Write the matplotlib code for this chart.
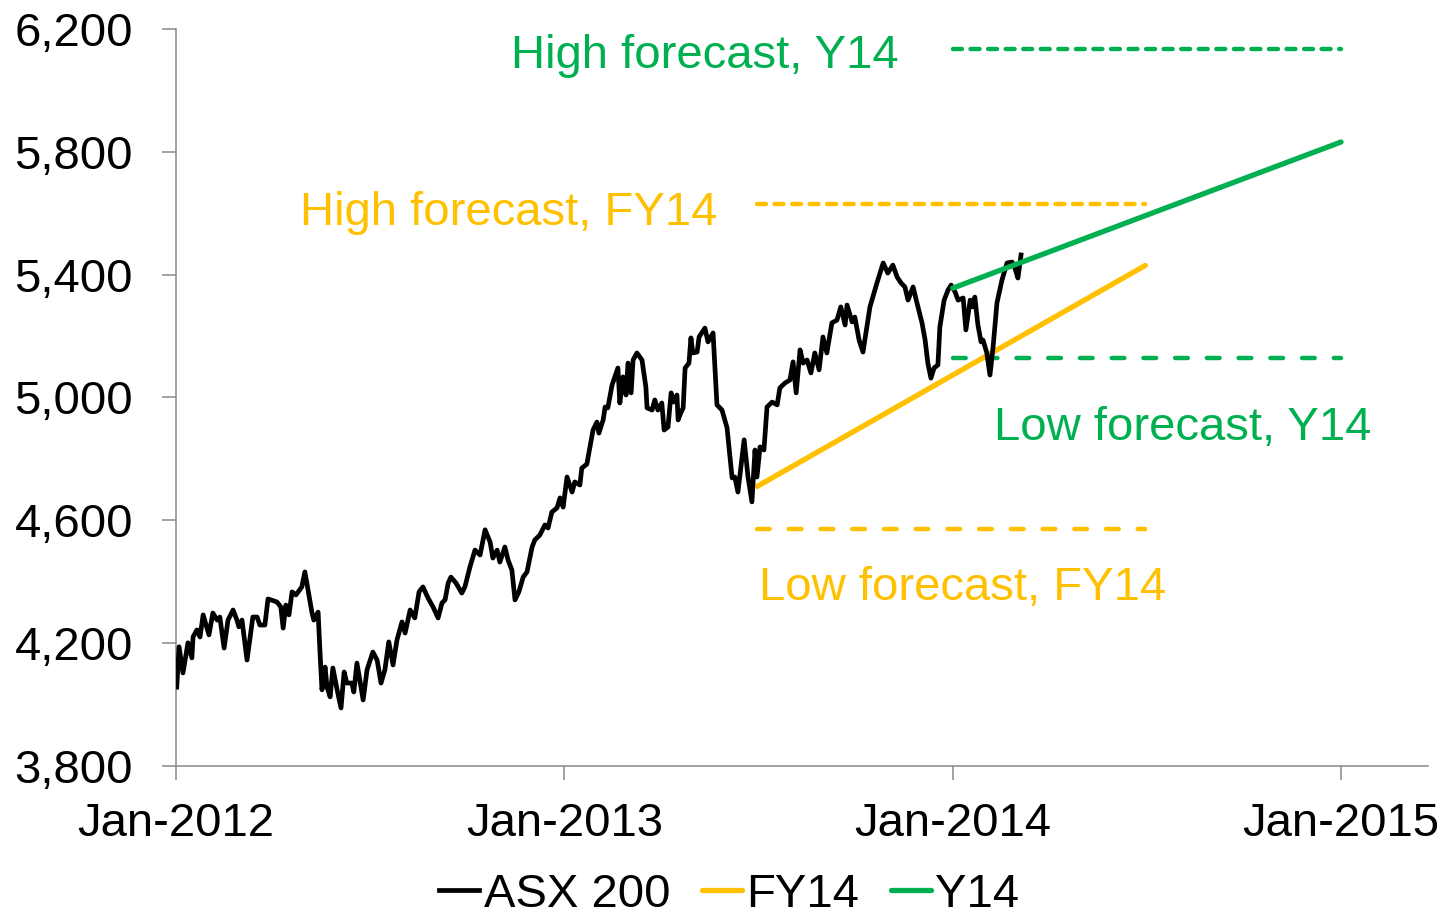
import matplotlib
matplotlib.use("Agg")
import matplotlib.pyplot as plt

plt.rcParams['font.family'] = ['Liberation Sans', 'DejaVu Sans']

# ASX 200 index (decimal year, index level)
asx_year = [2012.002, 2012.008, 2012.018, 2012.031, 2012.041, 2012.044, 2012.054, 2012.062, 2012.070, 2012.085,
            2012.095, 2012.106, 2012.113, 2012.124, 2012.134, 2012.147, 2012.157, 2012.162, 2012.170, 2012.183,
            2012.191, 2012.198, 2012.209, 2012.216, 2012.229, 2012.237, 2012.260, 2012.270, 2012.276, 2012.283,
            2012.291, 2012.299, 2012.309, 2012.324, 2012.332, 2012.337, 2012.350, 2012.355, 2012.366, 2012.371,
            2012.376, 2012.384, 2012.389, 2012.397, 2012.404, 2012.415, 2012.425, 2012.433, 2012.440, 2012.453,
            2012.458, 2012.466, 2012.482, 2012.492, 2012.507, 2012.518, 2012.528, 2012.538, 2012.548, 2012.559,
            2012.569, 2012.582, 2012.590, 2012.603, 2012.615, 2012.626, 2012.636, 2012.649, 2012.662, 2012.675,
            2012.685, 2012.693, 2012.701, 2012.708, 2012.721, 2012.736, 2012.744, 2012.757, 2012.770, 2012.783,
            2012.796, 2012.809, 2012.816, 2012.827, 2012.834, 2012.847, 2012.855, 2012.865, 2012.873, 2012.883,
            2012.894, 2012.904, 2012.917, 2012.924, 2012.937, 2012.950, 2012.958, 2012.968, 2012.981, 2012.989,
            2012.997, 2013.007, 2013.020, 2013.027, 2013.040, 2013.045, 2013.058, 2013.066, 2013.074, 2013.084,
            2013.089, 2013.100, 2013.105, 2013.112, 2013.123, 2013.138, 2013.143, 2013.151, 2013.159, 2013.164,
            2013.172, 2013.177, 2013.187, 2013.200, 2013.210, 2013.213, 2013.226, 2013.233, 2013.241, 2013.251,
            2013.257, 2013.267, 2013.275, 2013.282, 2013.290, 2013.293, 2013.300, 2013.306, 2013.311, 2013.321,
            2013.326, 2013.331, 2013.342, 2013.347, 2013.362, 2013.370, 2013.383, 2013.393, 2013.406, 2013.419,
            2013.432, 2013.439, 2013.447, 2013.463, 2013.473, 2013.483, 2013.491, 2013.496, 2013.504, 2013.514,
            2013.522, 2013.535, 2013.548, 2013.555, 2013.568, 2013.581, 2013.589, 2013.597, 2013.607, 2013.615,
            2013.625, 2013.635, 2013.645, 2013.656, 2013.666, 2013.676, 2013.689, 2013.702, 2013.712, 2013.723,
            2013.728, 2013.741, 2013.748, 2013.759, 2013.769, 2013.779, 2013.787, 2013.805, 2013.821, 2013.833,
            2013.846, 2013.857, 2013.867, 2013.877, 2013.885, 2013.898, 2013.908, 2013.921, 2013.929, 2013.936,
            2013.944, 2013.952, 2013.962, 2013.967, 2013.978, 2013.988, 2013.996, 2014.006, 2014.014, 2014.027,
            2014.034, 2014.045, 2014.052, 2014.057, 2014.065, 2014.073, 2014.078, 2014.088, 2014.096, 2014.104,
            2014.114, 2014.127, 2014.140, 2014.153, 2014.160, 2014.168, 2014.176]
asx_value = [4057, 4188, 4103, 4201, 4152, 4220, 4243, 4220, 4292, 4227,
             4298, 4275, 4285, 4184, 4275, 4308, 4275, 4253, 4275, 4145,
             4220, 4285, 4285, 4259, 4259, 4344, 4334, 4318, 4249, 4324,
             4292, 4367, 4357, 4383, 4432, 4396, 4301, 4275, 4301, 4168,
             4048, 4122, 4057, 4025, 4119, 4048, 3989, 4106, 4070, 4070,
             4041, 4135, 4015, 4113, 4171, 4145, 4070, 4113, 4204, 4129,
             4210, 4269, 4233, 4308, 4282, 4367, 4383, 4347, 4318, 4282,
             4331, 4341, 4396, 4415, 4396, 4363, 4383, 4448, 4503, 4487,
             4569, 4529, 4477, 4503, 4464, 4513, 4471, 4438, 4341, 4367,
             4415, 4432, 4513, 4536, 4552, 4585, 4575, 4627, 4640, 4673,
             4643, 4741, 4692, 4725, 4715, 4770, 4783, 4839, 4894, 4920,
             4884, 4927, 4969, 4966, 5041, 5096, 4982, 5067, 5008, 5112,
             5015, 5122, 5145, 5122, 5034, 4966, 4959, 4992, 4959, 4982,
             4894, 4904, 5015, 4985, 5008, 4927, 4950, 4966, 5096, 5112,
             5194, 5145, 5148, 5197, 5226, 5181, 5210, 4976, 4959, 4901,
             4738, 4741, 4692, 4862, 4741, 4660, 4829, 4741, 4839, 4829,
             4969, 4985, 4976, 5031, 5047, 5057, 5116, 5015, 5155, 5112,
             5122, 5080, 5145, 5090, 5197, 5145, 5243, 5252, 5295, 5236,
             5301, 5246, 5262, 5187, 5148, 5230, 5295, 5373, 5438, 5405,
             5431, 5392, 5373, 5360, 5317, 5360, 5308, 5243, 5187, 5112,
             5063, 5096, 5106, 5230, 5317, 5350, 5366, 5344, 5317, 5324,
             5220, 5317, 5295, 5327, 5236, 5181, 5187, 5145, 5073, 5164,
             5308, 5383, 5438, 5441, 5422, 5389, 5464]

# forecast paths
fy14_year = [2013.496, 2014.496]
fy14_value = [4710, 5430]
y14_year = [2014.0, 2015.0]
y14_value = [5356, 5832]

# forecast ranges
fy14_high = 5630
fy14_low = 4572
y14_high = 6135
y14_low = 5129

y_ticks = [3800, 4200, 4600, 5000, 5400, 5800, 6200]
y_labels = ["3,800", "4,200", "4,600", "5,000", "5,400", "5,800", "6,200"]
x_ticks = [2012, 2013, 2014, 2015]
x_labels = ["Jan-2012", "Jan-2013", "Jan-2014", "Jan-2015"]

black = "#000000"
yellow = "#FFC000"
green = "#00B050"
grey = "#898989"
fs = 34

fig = plt.figure(figsize=(14.47, 9.17), dpi=100)
ax = fig.add_axes([0.1216, 0.1647, 0.8653, 0.8037])

ax.plot(asx_year, asx_value, color=black, lw=3.4, solid_joinstyle="round", label="ASX 200", zorder=4)
ax.plot(fy14_year, fy14_value, color=yellow, lw=3.8, solid_capstyle="round", label="FY14", zorder=3)
ax.plot(y14_year, y14_value, color=green, lw=3.8, solid_capstyle="round", label="Y14", zorder=5)

# dashed high / low lines
short_dash = (0, (2.0, 1.95))
long_dash = (0, (2.86, 4.28))
ax.plot(fy14_year, [fy14_high, fy14_high], color=yellow, lw=3.2, ls=short_dash, dash_capstyle="round")
ax.plot(fy14_year, [fy14_low, fy14_low], color=yellow, lw=3.2, ls=long_dash, dash_capstyle="round")
ax.plot(y14_year, [y14_high, y14_high], color=green, lw=3.2, ls=short_dash, dash_capstyle="round")
ax.plot(y14_year, [y14_low, y14_low], color=green, lw=3.2, ls=long_dash, dash_capstyle="round")

ax.text(0.4221, 0.9471, "High forecast, Y14", color=green, fontsize=fs, ha="center", va="baseline", transform=ax.transAxes)
ax.text(0.266, 0.734, "High forecast, FY14", color=yellow, fontsize=fs, ha="center", va="baseline", transform=ax.transAxes)
ax.text(0.8043, 0.4423, "Low forecast, Y14", color=green, fontsize=fs, ha="center", va="baseline", transform=ax.transAxes)
ax.text(0.6286, 0.2252, "Low forecast, FY14", color=yellow, fontsize=fs, ha="center", va="baseline", transform=ax.transAxes)

ax.set_xlim(2012, 2015.224)
ax.set_ylim(3800, 6200)
ax.set_xticks(x_ticks)
ax.set_xticklabels(x_labels)
ax.set_yticks(y_ticks)
ax.set_yticklabels(y_labels)

for s in ["top", "right"]:
    ax.spines[s].set_visible(False)
for s in ["left", "bottom"]:
    ax.spines[s].set_color(grey)
    ax.spines[s].set_linewidth(1.1)
ax.tick_params(axis="both", direction="out", length=10, width=1.1, color=grey, labelsize=fs, labelcolor=black)
ax.tick_params(axis="y", pad=21)
ax.tick_params(axis="x", pad=16)

fig.legend(loc="center", bbox_to_anchor=(0.504, 0.024), ncol=3, frameon=False, fontsize=fs,
           handlelength=0.85, handletextpad=0.1, columnspacing=0.66, borderpad=0)

fig.savefig("out.png", dpi=100)
